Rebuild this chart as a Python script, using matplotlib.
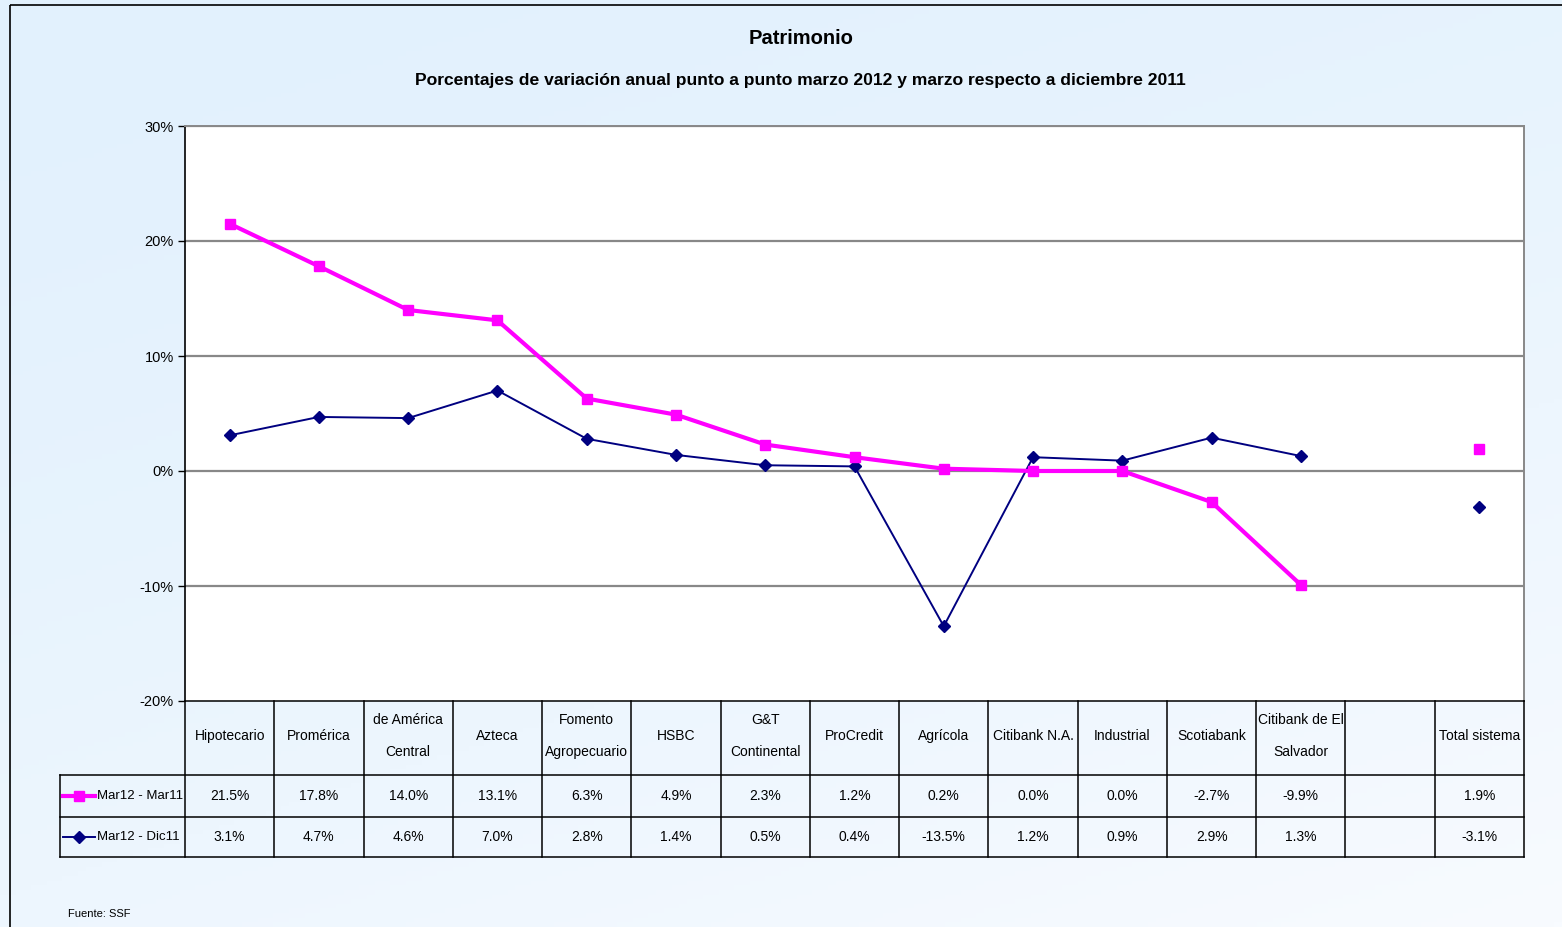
import numpy as np
import matplotlib
matplotlib.use("Agg")
import matplotlib.pyplot as plt
from matplotlib import font_manager
from matplotlib.lines import Line2D
from matplotlib.patches import Rectangle

# data
categories = ["Hipotecario", "Promérica", "de América\nCentral", "Azteca",
              "Fomento\nAgropecuario", "HSBC", "G&T\nContinental", "ProCredit",
              "Agrícola", "Citibank N.A.", "Industrial", "Scotiabank",
              "Citibank de El\nSalvador", "", "Total sistema"]
mar_mar = [21.5, 17.8, 14.0, 13.1, 6.3, 4.9, 2.3, 1.2, 0.2, 0.0, 0.0, -2.7, -9.9, None, 1.9]
mar_dic = [3.1, 4.7, 4.6, 7.0, 2.8, 1.4, 0.5, 0.4, -13.5, 1.2, 0.9, 2.9, 1.3, None, -3.1]
series_names = ["Mar12 - Mar11", "Mar12 - Dic11"]
yticks = [-20, -10, 0, 10, 20, 30]

PINK = "#FF00FF"
NAVY = "#000080"

names = {f.name for f in font_manager.fontManager.ttflist}
narrow = "Liberation Sans Narrow" in names
FAM = ["Liberation Sans Narrow", "Liberation Sans", "DejaVu Sans"] if narrow else ["Liberation Sans", "DejaVu Sans"]
scale = 1.2 if narrow else 1.0
plt.rcParams["font.family"] = FAM

W, H = 1562, 927
fig = plt.figure(figsize=(W / 100, H / 100), dpi=100)

# gradient background
bg = fig.add_axes([0, 0, 1, 1], zorder=-10)
gx, gy = np.meshgrid(np.linspace(0, 1, 200), np.linspace(0, 1, 200))
t = np.clip(0.65 * gy + 0.35 * gx, 0, 1) ** 1.5
top = np.array([226, 241, 253]) / 255
bot = np.array([248, 251, 255]) / 255
img = top[None, None, :] * (1 - t[..., None]) + bot[None, None, :] * t[..., None]
bg.imshow(img, extent=[0, W, H, 0], aspect="auto")
bg.set_xlim(0, W)
bg.set_ylim(H, 0)
bg.add_patch(Rectangle((10, 5), W + 20, H + 20, fill=False, ec="black", lw=1.2))
bg.axis("off")

def px(x0, y0, x1, y1):
    return [x0 / W, 1 - y1 / H, (x1 - x0) / W, (y1 - y0) / H]

ax = fig.add_axes(px(185, 126, 1524, 701))
ax.set_facecolor("white")
n = len(categories)
x = np.arange(n)
pink = np.array([np.nan if v is None else v for v in mar_mar], float)
navy = np.array([np.nan if v is None else v for v in mar_dic], float)

ax.plot(x, navy, color=NAVY, lw=1.4, marker="D", ms=6, mfc=NAVY, mec=NAVY, zorder=3)
ax.plot(x, pink, color=PINK, lw=3, marker="s", ms=7, mfc=PINK, mec=PINK, zorder=4)

ax.set_xlim(-0.5, n - 0.5)
ax.set_ylim(-20, 30)
ax.set_yticks(yticks)
ax.set_yticklabels([f"{v}%" for v in yticks], fontsize=10.5 * scale)
ax.tick_params(axis="y", direction="out", length=5, width=1, pad=3)
ax.set_xticks([])
for y in yticks[1:]:
    ax.axhline(y, color="#888888", lw=1.6, zorder=1)
ax.spines["left"].set_color("black")
ax.spines["left"].set_linewidth(1.2)
for s in ["top", "right"]:
    ax.spines[s].set_color("#888888")
    ax.spines[s].set_linewidth(1.4)
ax.spines["bottom"].set_visible(False)

# data table under the plot
tax = fig.add_axes(px(185, 701, 1524, 857))
tax.set_xlim(-0.5, n - 0.5)
tax.set_ylim(156, 0)
tax.axis("off")
cw = 1339 / n
left = -0.5 - 125 / cw
rows = [0, 74, 116, 156]
kw = dict(color="black", lw=1.1, clip_on=False)
tax.plot([-0.5, n - 0.5], [0, 0], **kw)
tax.plot([left, n - 0.5], [rows[1], rows[1]], **kw)
tax.plot([left, n - 0.5], [rows[2], rows[2]], **kw)
tax.plot([left, n - 0.5], [rows[3], rows[3]], **kw)
tax.plot([left, left], [rows[1], rows[3]], **kw)
for i in range(n + 1):
    tax.plot([i - 0.5, i - 0.5], [0, 156], **kw)

fs = 10 * scale
for i, c in enumerate(categories):
    tax.text(i, 35, c, ha="center", va="center", fontsize=fs, linespacing=2.6,
             clip_on=False)

def fmt(v):
    return "" if v is None else f"{v:.1f}%"

for r, (vals, name, col, mk, lw, ms) in enumerate([
        (mar_mar, series_names[0], PINK, "s", 3, 7),
        (mar_dic, series_names[1], NAVY, "D", 1.4, 6)]):
    yc = (rows[r + 1] + rows[r + 2]) / 2
    for i, v in enumerate(vals):
        tax.text(i, yc, fmt(v), ha="center", va="center", fontsize=fs)
    k0 = left + 3 / cw
    k1 = left + 35 / cw
    tax.add_line(Line2D([k0, k1], [yc, yc], color=col, lw=lw, clip_on=False))
    tax.add_line(Line2D([(k0 + k1) / 2], [yc], color=col, marker=mk, ms=ms,
                        mfc=col, mec=col, clip_on=False))
    tax.text(left + 37 / cw, yc, name, ha="left", va="center", fontsize=9.5 * scale,
             clip_on=False)

fig.text(801 / W, 1 - 38 / H, "Patrimonio", ha="center", va="center",
         fontsize=14.5 * scale, fontweight="bold")
fig.text(800 / W, 1 - 80 / H,
         "Porcentajes de variación anual punto a punto marzo 2012 y marzo respecto a diciembre 2011",
         ha="center", va="center", fontsize=12.6 * scale, fontweight="bold")
fig.text(68 / W, 1 - 914 / H, "Fuente: SSF", ha="left", va="center",
         fontsize=8 * scale)

fig.savefig("out.png", dpi=100)
